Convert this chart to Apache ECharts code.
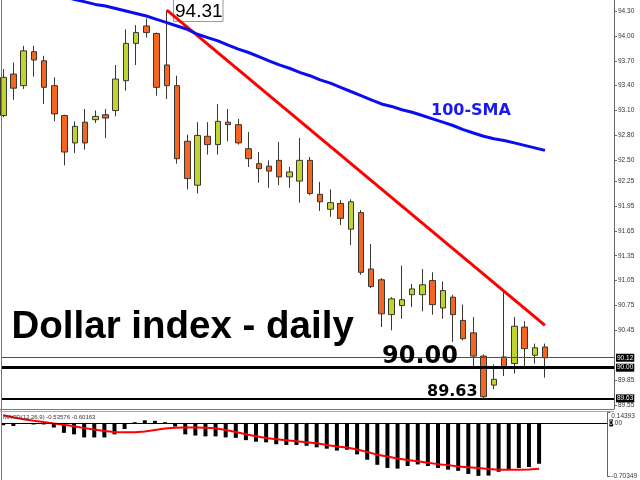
<!DOCTYPE html>
<html><head><meta charset="utf-8">
<script src="https://cdn.jsdelivr.net/npm/echarts@6/dist/echarts.min.js"></script>
<style>html,body{margin:0;padding:0;background:#fff}#c{width:640px;height:480px}</style>
</head><body><div id="c"></div>
<script>
// ---- Daily candles ----
const opens  = [93.04,93.54,93.40,93.81,93.70,93.40,93.04,92.71,92.96,92.99,
                93.05,93.10,93.46,93.91,94.12,94.03,93.65,93.40,92.73,92.20,
                92.79,92.69,92.96,92.93,92.64,92.46,92.43,92.50,92.30,92.25,
                92.50,92.09,91.91,91.98,91.67,91.87,91.19,91.06,90.64,90.75,
                90.88,90.88,91.05,90.72,90.85,90.57,90.42,90.14,89.79,90.13,
                90.05,90.49,90.15,90.25];
const closes = [93.50,93.37,93.82,93.71,93.38,93.06,92.60,92.91,92.71,93.03,
                93.01,93.48,93.91,94.04,94.04,93.38,93.40,92.52,92.28,92.80,
                92.69,92.97,92.93,92.71,92.52,92.40,92.37,92.30,92.36,92.50,
                92.10,92.00,91.99,91.80,92.00,91.15,90.98,90.65,90.83,90.82,
                90.95,91.00,90.76,90.93,90.64,90.35,90.14,89.65,89.86,90.00,
                90.50,90.23,90.24,90.12];
const lows   = [93.02,93.23,93.36,93.51,93.18,92.97,92.44,92.59,92.63,92.95,
                92.77,93.03,93.34,93.65,93.98,93.28,93.24,92.46,92.15,92.10,
                92.57,92.57,92.73,92.69,92.42,92.23,92.17,92.20,92.17,91.99,
                92.08,91.89,91.82,91.72,91.48,91.12,90.96,90.49,90.45,90.59,
                90.73,90.68,90.64,90.59,90.31,90.33,90.01,89.63,89.74,89.90,
                89.93,90.01,90.05,89.88];
const highs  = [93.60,93.68,93.88,93.88,93.76,93.50,93.05,92.97,93.12,93.10,
                93.12,93.65,94.08,94.13,94.21,94.04,94.31,93.52,92.81,92.96,
                92.96,93.18,93.12,93.00,92.84,92.60,92.50,92.72,92.42,92.77,
                92.54,92.24,92.15,92.02,92.03,91.90,91.49,91.08,90.85,91.23,
                91.01,91.19,91.15,91.04,90.88,90.76,90.61,90.16,90.04,90.92,
                90.61,90.56,90.29,90.29];
// ---- 100-SMA ----
const sma100 = [94.64,94.61,94.58,94.55,94.53,94.50,94.47,94.44,94.41,94.38,
                94.36,94.33,94.30,94.27,94.24,94.20,94.16,94.12,94.08,94.02,
                93.98,93.94,93.89,93.84,93.80,93.75,93.70,93.65,93.61,93.56,
                93.52,93.47,93.43,93.38,93.33,93.28,93.23,93.18,93.15,93.11,
                93.08,93.04,93.00,92.96,92.92,92.87,92.83,92.79,92.76,92.74,
                92.71,92.68,92.65,92.62];
// ---- Downtrend line: [bar number, price] ----
const trendLine = [[17, 94.31], [54, 90.51]];
// ---- MACD(12,26,9) ----
const macdHist = [-0.03,-0.04,-0.01,-0.02,-0.02,-0.06,-0.13,-0.15,-0.19,-0.19,
                  -0.19,-0.15,-0.08,0.01,0.035,0.028,0.01,-0.047,-0.15,-0.165,
                  -0.176,-0.176,-0.19,-0.196,-0.226,-0.246,-0.255,-0.28,-0.289,-0.289,
                  -0.30,-0.32,-0.338,-0.363,-0.351,-0.413,-0.483,-0.55,-0.591,-0.60,
                  -0.566,-0.545,-0.566,-0.591,-0.613,-0.629,-0.67,-0.695,-0.691,-0.641,
                  -0.608,-0.591,-0.579,-0.536];
const macdSignal = [0.10,0.075,0.05,0.03,0.013,-0.006,-0.024,-0.043,-0.068,-0.087,
                    -0.105,-0.118,-0.122,-0.122,-0.112,-0.093,-0.074,-0.062,-0.059,-0.059,
                    -0.062,-0.07,-0.093,-0.118,-0.149,-0.174,-0.199,-0.214,-0.226,-0.239,
                    -0.252,-0.267,-0.289,-0.308,-0.323,-0.348,-0.38,-0.417,-0.442,-0.467,
                    -0.488,-0.504,-0.523,-0.541,-0.554,-0.573,-0.583,-0.591,-0.604,-0.614,
                    -0.616,-0.616,-0.61,-0.602];
// ---- Axis ticks / levels ----
const priceTicks = [94.30,94.00,93.70,93.40,93.10,92.80,92.50,92.25,91.95,91.65,91.35,91.05,90.75,90.45,89.85,89.55];
const macdTicks = [0.14393, -0.70349];
const bidLevel = 90.12, roundLevel = 90.00, lowLevel = 89.63;
const macdTitle = 'MACD(12,26,9) -0.53576 -0.60163';

const idx = opens.map((_, i) => i + 1);
const candles = idx.map((x, i) => [x, opens[i], closes[i], lows[i], highs[i]]);
const smaData = idx.map((x, i) => [x, sma100[i]]);
const histData = idx.map((x, i) => [x, macdHist[i]]);
const sigData = idx.map((x, i) => [x, macdSignal[i]]);
const topHigh = Math.max(...highs).toFixed(2);

const LF = '"Liberation Sans", Arial, sans-serif';
const DF = '"DejaVu Sans", Verdana, sans-serif';
const boxLabel = {show:true, position:'end', distance:2, formatter:p=>p.value.toFixed(2),
  color:'#fff', backgroundColor:'#000', fontSize:6.5, fontFamily:LF, padding:[1,1,0,1]};

const chart = echarts.init(document.getElementById('c'));
chart.setOption({
  animation:false,
  grid:[{left:2,right:26,top:0,height:409},{left:2,right:26,top:412,height:68}],
  xAxis:[{type:'value',gridIndex:0,min:0.873,max:60.753,show:false},
         {type:'value',gridIndex:1,min:0.873,max:60.753,show:false}],
  yAxis:[{type:'value',gridIndex:0,position:'right',min:89.502,max:94.433,
          axisLine:{show:true,onZero:false,lineStyle:{color:'#666'}},
          axisTick:{show:true,length:3,customValues:priceTicks,lineStyle:{color:'#666'}},
          axisLabel:{customValues:priceTicks,formatter:v=>v.toFixed(2),fontSize:6.5,color:'#333',margin:4,fontFamily:LF},
          splitLine:{show:false}},
         {type:'value',gridIndex:1,position:'right',min:-0.70349,max:0.14393,
          axisLine:{show:true,onZero:false,lineStyle:{color:'#666'}},
          axisTick:{show:true,length:3,customValues:macdTicks,lineStyle:{color:'#666'}},
          axisLabel:{customValues:macdTicks,formatter:v=>(v>0?'{t|'+v+'}':String(v)),fontSize:6.5,color:'#333',margin:4,fontFamily:LF,
            rich:{t:{fontSize:6.5,color:'#333',fontFamily:LF,padding:[8,0,0,0]}}},
          splitLine:{show:false}}],
  series:[
    {type:'candlestick',xAxisIndex:0,yAxisIndex:0,data:candles,barWidth:6,
     itemStyle:{color:'#bfd431',color0:'#f26522',borderColor:'#3a3630',borderColor0:'#3a3630',borderWidth:1},
     markLine:{silent:true,symbol:['none','none'],
       data:[{yAxis:bidLevel,lineStyle:{color:'#3a3af5',width:1,type:'solid',opacity:1},label:boxLabel},
             {yAxis:roundLevel,lineStyle:{color:'#000',width:3,type:'solid',opacity:1},label:boxLabel},
             {yAxis:lowLevel,lineStyle:{color:'#000',width:2,type:'solid',opacity:1},label:boxLabel}]}},
    {type:'line',xAxisIndex:0,yAxisIndex:0,data:trendLine,symbol:'none',lineStyle:{color:'#ff0000',width:3}},
    {type:'line',xAxisIndex:0,yAxisIndex:0,data:smaData,symbol:'none',lineStyle:{color:'#0c0cf2',width:3}},
    {type:'bar',xAxisIndex:1,yAxisIndex:1,data:histData,barWidth:4,itemStyle:{color:'#000'},
     markLine:{silent:true,symbol:['none','none'],
       data:[{yAxis:0,lineStyle:{color:'#000',width:1,type:'solid',opacity:1},
         label:{show:true,position:'end',distance:2,formatter:'{b|0}.00',color:'#333',fontSize:6.5,fontFamily:LF,
           rich:{b:{backgroundColor:'#000',color:'#fff',fontSize:6.5,fontFamily:LF}}}}]}},
    {type:'line',xAxisIndex:1,yAxisIndex:1,data:sigData,symbol:'none',lineStyle:{color:'#ff0000',width:2}}
  ],
  graphic:[
    {type:'line',shape:{x1:1.5,y1:0,x2:1.5,y2:480},style:{stroke:'#777',lineWidth:1},z:50},
    {type:'line',shape:{x1:0,y1:409.5,x2:614,y2:409.5},style:{stroke:'#777',lineWidth:1},z:50},
    {type:'line',shape:{x1:0,y1:411.5,x2:614,y2:411.5},style:{stroke:'#aaa',lineWidth:1},z:50},
    {type:'rect',shape:{x:173.5,y:-1,width:49.5,height:22.5},style:{fill:'#fff',stroke:'#999',lineWidth:1},z:0},
    {type:'text',x:175,y:11.5,style:{text:topHigh,font:'19px '+LF,fill:'#000',verticalAlign:'middle'},z:1},
    {type:'text',x:11.5,y:327,style:{text:'Dollar index - daily',font:'bold 38.5px '+LF,fill:'#000',verticalAlign:'middle'},z:100},
    {type:'text',x:382,y:357,style:{text:roundLevel.toFixed(2),font:'bold 24px '+DF,fill:'#000',verticalAlign:'middle'},z:100},
    {type:'text',x:427,y:392,style:{text:lowLevel.toFixed(2),font:'bold 16px '+DF,fill:'#000',verticalAlign:'middle'},z:100},
    {type:'text',x:431,y:111,style:{text:'100-SMA',font:'bold 16px '+DF,fill:'#1a1aee',verticalAlign:'middle'},z:100},
    {type:'text',x:3,y:417,style:{text:macdTitle,font:'6px '+LF,fill:'#333',verticalAlign:'middle'},z:100}
  ]
});
</script></body></html>
